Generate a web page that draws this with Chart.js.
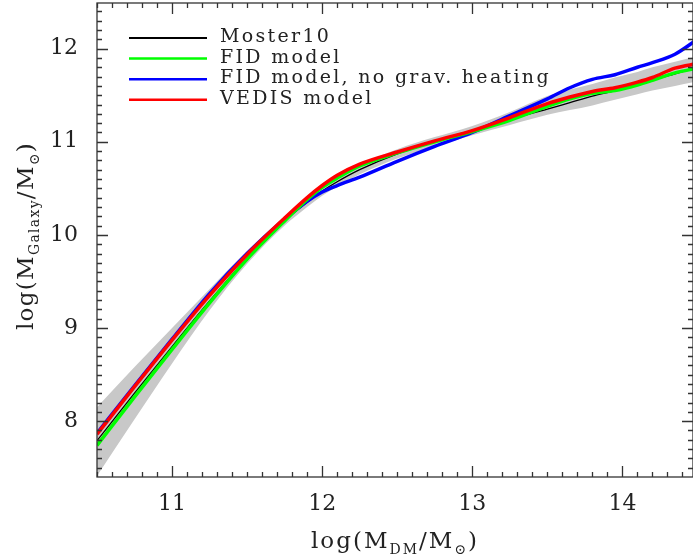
<!DOCTYPE html>
<html>
<head>
<meta charset="utf-8">
<script src="https://cdn.jsdelivr.net/npm/chart.js@4/dist/chart.umd.min.js"></script>
<style>
  html, body { margin: 0; padding: 0; background: #fff; }
</style>
</head>
<body>
<canvas id="smhm" width="693" height="558"></canvas>
<script>
// log halo mass grid (x) and the stellar mass curves
var logMdm     = [10.5, 10.75, 11.0, 11.25, 11.5, 11.75, 11.9, 12.0, 12.1, 12.25, 12.5, 12.75, 13.0, 13.25, 13.5, 13.65, 13.8, 13.95, 14.1, 14.2, 14.35, 14.5];
var moster10   = [7.79, 8.30, 8.80, 9.29, 9.75, 10.15, 10.35, 10.47, 10.57, 10.70, 10.87, 11.00, 11.12, 11.24, 11.35, 11.42, 11.49, 11.55, 11.62, 11.66, 11.73, 11.80];
var fidModel   = [7.74, 8.26, 8.77, 9.27, 9.74, 10.15, 10.38, 10.51, 10.61, 10.74, 10.88, 11.00, 11.11, 11.23, 11.38, 11.46, 11.52, 11.55, 11.61, 11.66, 11.74, 11.79];
var fidNoGrav  = [7.87, 8.38, 8.88, 9.37, 9.80, 10.17, 10.36, 10.46, 10.53, 10.62, 10.79, 10.95, 11.10, 11.28, 11.46, 11.58, 11.67, 11.72, 11.80, 11.85, 11.94, 12.10];
var vedisModel = [7.86, 8.37, 8.87, 9.35, 9.79, 10.18, 10.40, 10.53, 10.64, 10.76, 10.89, 11.01, 11.12, 11.26, 11.41, 11.48, 11.54, 11.58, 11.64, 11.69, 11.79, 11.84];
// grey scatter band around Moster10
var bandUpper  = [8.15, 8.58, 9.00, 9.42, 9.83, 10.20, 10.40, 10.52, 10.62, 10.75, 10.92, 11.05, 11.17, 11.32, 11.49, 11.56, 11.62, 11.69, 11.75, 11.80, 11.86, 11.92];
var bandLower  = [7.41, 8.02, 8.62, 9.19, 9.69, 10.10, 10.30, 10.42, 10.52, 10.65, 10.82, 10.95, 11.07, 11.18, 11.29, 11.34, 11.39, 11.45, 11.51, 11.55, 11.60, 11.65];

var xTicks = [11, 12, 13, 14];
var yTicks = [8, 9, 10, 11, 12];
var legendNames = ["Moster10", "FID model", "FID model, no grav. heating", "VEDIS model"];
var legendColors = ["#000000", "#00ff00", "#0000ff", "#ff0000"];

var SERIF = "'DejaVu Serif', serif";

function pts(ys) {
  return logMdm.map(function (x, i) { return { x: x, y: ys[i] }; });
}

function line(label, ys, color, w) {
  return {
    label: label,
    data: pts(ys),
    borderColor: color,
    borderWidth: w,
    pointRadius: 0,
    fill: false,
    cubicInterpolationMode: 'monotone'
  };
}

// box with inward ticks on all four sides
var frame = {
  id: 'frame',
  afterDraw: function (chart) {
    var ctx = chart.ctx, a = chart.chartArea;
    var xs = chart.scales.x, ys = chart.scales.y;
    ctx.save();
    ctx.strokeStyle = '#333';
    ctx.lineWidth = 1.3;
    ctx.strokeRect(a.left, a.top, a.right - a.left, a.bottom - a.top);
    ctx.beginPath();
    for (var k = 105; k <= 144; k++) {
      var px = Math.round(xs.getPixelForValue(k / 10)) + 0.5;
      var len = (k % 10 === 0) ? 11 : 5;
      ctx.moveTo(px, a.bottom); ctx.lineTo(px, a.bottom - len);
      ctx.moveTo(px, a.top); ctx.lineTo(px, a.top + len);
    }
    for (var j = 75; j <= 124; j++) {
      var py = Math.round(ys.getPixelForValue(j / 10)) + 0.5;
      var l2 = (j % 10 === 0) ? 11 : 5;
      ctx.moveTo(a.left, py); ctx.lineTo(a.left + l2, py);
      ctx.moveTo(a.right, py); ctx.lineTo(a.right - l2, py);
    }
    ctx.stroke();
    ctx.restore();
  }
};

function richText(ctx, parts, cx, cy, size, spacing) {
  var subSize = Math.round(size * 0.62);
  var w = 0;
  ctx.letterSpacing = spacing + 'px';
  parts.forEach(function (p) {
    ctx.font = (p.sub ? subSize : size) + 'px ' + SERIF;
    p.w = ctx.measureText(p.t).width;
    w += p.w;
  });
  var x = cx - w / 2;
  ctx.textBaseline = 'alphabetic';
  ctx.textAlign = 'left';
  parts.forEach(function (p) {
    ctx.font = (p.sub ? subSize : size) + 'px ' + SERIF;
    ctx.fillText(p.t, x, cy + (p.sub ? size * 0.28 : 0));
    x += p.w;
  });
}

var axisTitles = {
  id: 'axisTitles',
  afterDraw: function (chart) {
    var ctx = chart.ctx, a = chart.chartArea;
    ctx.save();
    ctx.fillStyle = '#222';
    richText(ctx, [{ t: 'log(M' }, { t: 'DM', sub: true }, { t: '/M' }, { t: '\u2299', sub: true }, { t: ')' }],
      (a.left + a.right) / 2, 548, 23, 2);
    ctx.translate(33, 236);
    ctx.rotate(-Math.PI / 2);
    richText(ctx, [{ t: 'log(M' }, { t: 'Galaxy', sub: true }, { t: '/M' }, { t: '\u2299', sub: true }, { t: ')' }],
      0, 0, 23, 1.3);
    ctx.restore();
  }
};

var legendBox = {
  id: 'legendBox',
  afterDraw: function (chart) {
    var ctx = chart.ctx;
    ctx.save();
    ctx.font = '19px ' + SERIF;
    ctx.letterSpacing = '2.3px';
    ctx.textBaseline = 'middle';
    ctx.textAlign = 'left';
    legendNames.forEach(function (name, i) {
      var y = 38 + i * 20.6;
      ctx.strokeStyle = legendColors[i];
      ctx.lineWidth = i === 0 ? 2 : 2.5;
      ctx.beginPath();
      ctx.moveTo(129, y);
      ctx.lineTo(207, y);
      ctx.stroke();
      ctx.fillStyle = '#222';
      ctx.fillText(name, 220, y - 1);
    });
    ctx.restore();
  }
};

function noEdgePadding(s) {
  s.paddingTop = 0; s.paddingBottom = 0; s.paddingLeft = 0; s.paddingRight = 0;
}

var chart = new Chart(document.getElementById('smhm').getContext('2d'), {
  type: 'line',
  data: {
    datasets: [
      line('VEDIS model', vedisModel, '#ff0000', 3.5),
      line('FID model', fidModel, '#00ff00', 3.5),
      line('FID model, no grav. heating', fidNoGrav, '#0000ff', 3.5),
      line('Moster10', moster10, '#000000', 1.3),
      {
        label: 'band low',
        data: pts(bandLower),
        borderColor: 'rgba(0,0,0,0)',
        borderWidth: 0,
        pointRadius: 0,
        fill: false,
        cubicInterpolationMode: 'monotone'
      },
      {
        label: 'band high',
        data: pts(bandUpper),
        borderColor: 'rgba(0,0,0,0)',
        borderWidth: 0,
        pointRadius: 0,
        backgroundColor: '#c8c8c8',
        fill: '-1',
        cubicInterpolationMode: 'monotone'
      }
    ]
  },
  options: {
    responsive: false,
    animation: false,
    devicePixelRatio: 1,
    layout: { padding: { top: 3, left: 0, right: 0, bottom: 0 } },
    plugins: {
      legend: { display: false },
      tooltip: { enabled: false },
      title: { display: false }
    },
    scales: {
      x: {
        type: 'linear',
        min: 10.5,
        max: 14.47,
        grid: { display: false },
        border: { display: false },
        afterBuildTicks: function (s) { s.ticks = xTicks.map(function (v) { return { value: v }; }); },
        afterFit: function (s) { s.height = 81; noEdgePadding(s); },
        ticks: {
          font: { family: SERIF, size: 22 },
          color: '#222',
          padding: 6,
          maxRotation: 0,
          autoSkip: false
        }
      },
      y: {
        type: 'linear',
        min: 7.4,
        max: 12.49,
        grid: { display: false },
        border: { display: false },
        afterBuildTicks: function (s) { s.ticks = yTicks.map(function (v) { return { value: v }; }); },
        afterFit: function (s) { s.width = 97; noEdgePadding(s); },
        ticks: {
          font: { family: SERIF, size: 22 },
          color: '#222',
          padding: 11,
          autoSkip: false
        }
      }
    }
  },
  plugins: [frame, axisTitles, legendBox]
});
</script>
</body>
</html>
